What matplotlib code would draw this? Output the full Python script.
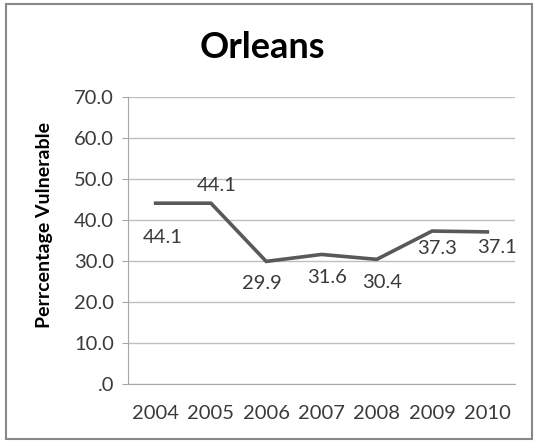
import matplotlib
matplotlib.use("Agg")
import matplotlib.pyplot as plt
from matplotlib.patches import Rectangle

years = ["2004", "2005", "2006", "2007", "2008", "2009", "2010"]
values = [44.1, 44.1, 29.9, 31.6, 30.4, 37.3, 37.1]
yticks = [0, 10, 20, 30, 40, 50, 60, 70]
ytick_labels = [".0", "10.0", "20.0", "30.0", "40.0", "50.0", "60.0", "70.0"]

# label offsets (pixels) from each point: (dx, dy) to label centre
label_dx = [7, 6, -4, 6, 5, 5, 10]
label_dy = [-34, 18, -22, -23, -23, -17, -16]

plt.rcParams['font.family'] = ['Lato', 'DejaVu Sans']

fig = plt.figure(figsize=(5.40, 4.44), dpi=100)
fig.patches.append(Rectangle((0.012, 0.012), 0.973, 0.978, transform=fig.transFigure,
                             fill=False, edgecolor="#888888", linewidth=1.5))
ax = fig.add_axes([128/540, 1 - 384/444, (515-128)/540, (384-97)/444])

x = list(range(len(years)))
ax.plot(x, values, color="#595959", linewidth=2.6, solid_joinstyle="miter")
for xi, v, dx, dy in zip(x, values, label_dx, label_dy):
    ax.annotate(f"{v:.1f}", (xi, v), xytext=(dx * 0.72, dy * 0.72), textcoords="offset points",
                ha="center", va="center", fontsize=14.5, color="#3a3a3a")

ax.set_xlim(-0.5, len(years) - 0.5)
ax.set_ylim(0, 70)
ax.set_yticks(yticks)
ax.set_yticklabels(ytick_labels)
ax.set_xticks(x)
ax.set_xticklabels(years)
ax.yaxis.grid(True, color="#bfbfbf", linewidth=1)
ax.set_axisbelow(True)
for s in ["top", "right"]:
    ax.spines[s].set_visible(False)
for s in ["left", "bottom"]:
    ax.spines[s].set_color("#a6a6a6")
ax.tick_params(axis="y", length=4, color="#a6a6a6", labelsize=14.5, labelcolor="#3a3a3a", pad=6)
ax.tick_params(axis="x", length=0, labelsize=14.5, labelcolor="#3a3a3a", pad=15)
ax.set_ylabel("Perrcentage Vulnerable", fontsize=14, fontweight="bold")
ax.yaxis.set_label_coords(-0.195, 0.554)
fig.text(262/540, 1 - 48/444, "Orleans", ha="center", va="center", fontsize=26, fontweight="bold")

fig.savefig("out.png", dpi=100)
